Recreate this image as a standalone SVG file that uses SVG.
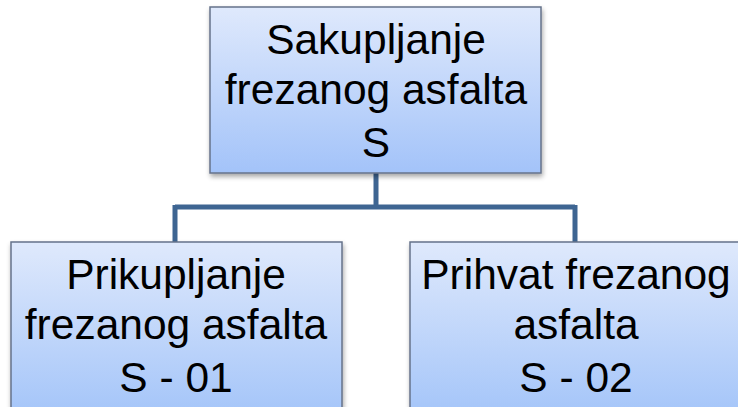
<svg xmlns="http://www.w3.org/2000/svg" width="738" height="407" viewBox="0 0 738 407">
<defs>
<linearGradient id="g" x1="0" y1="0" x2="0" y2="1">
<stop offset="0" stop-color="#dfe9fc"/>
<stop offset="1" stop-color="#a3c3f9"/>
</linearGradient>
<linearGradient id="g2" gradientUnits="userSpaceOnUse" x1="0" y1="242" x2="0" y2="410">
<stop offset="0" stop-color="#dfe9fc"/>
<stop offset="1" stop-color="#a6c6f9"/>
</linearGradient>
<filter id="sh" x="-10%" y="-10%" width="125%" height="130%">
<feGaussianBlur in="SourceAlpha" stdDeviation="2.5"/>
<feOffset dx="1" dy="3" result="b"/>
<feComponentTransfer><feFuncA type="linear" slope="0.35"/></feComponentTransfer>
<feMerge><feMergeNode/><feMergeNode in="SourceGraphic"/></feMerge>
</filter>
</defs>
<style>
.box{stroke:#66738a;stroke-width:1.5}
.t{font-family:"Liberation Sans",Arial,sans-serif;font-size:42.5px;fill:#000;text-anchor:middle}
.c{stroke:#3e6592;stroke-width:5;fill:none}
</style>
<rect width="738" height="407" fill="#fff"/>
<g id="connectors">
<path class="c" d="M376 173 V207 M175 207 H575 M175 205 V242 M575 205 V242"/>
</g>
<g id="n0">
<rect class="box" x="210" y="7" width="331" height="166" fill="url(#g)" filter="url(#sh)"/>
<text class="t" x="376" y="54">Sakupljanje</text>
<text class="t" x="376" y="104">frezanog asfalta</text>
<text class="t" x="376" y="157">S</text>
</g>
<g id="n1">
<rect class="box" x="11" y="242" width="331" height="170" fill="url(#g2)" filter="url(#sh)"/>
<text class="t" x="176" y="289">Prikupljanje</text>
<text class="t" x="176" y="339">frezanog asfalta</text>
<text class="t" x="176" y="392">S - 01</text>
</g>
<g id="n2">
<rect class="box" x="410" y="242" width="331" height="170" fill="url(#g2)" filter="url(#sh)"/>
<text class="t" x="576" y="289">Prihvat frezanog</text>
<text class="t" x="576" y="339">asfalta</text>
<text class="t" x="576" y="392">S - 02</text>
</g>
</svg>
